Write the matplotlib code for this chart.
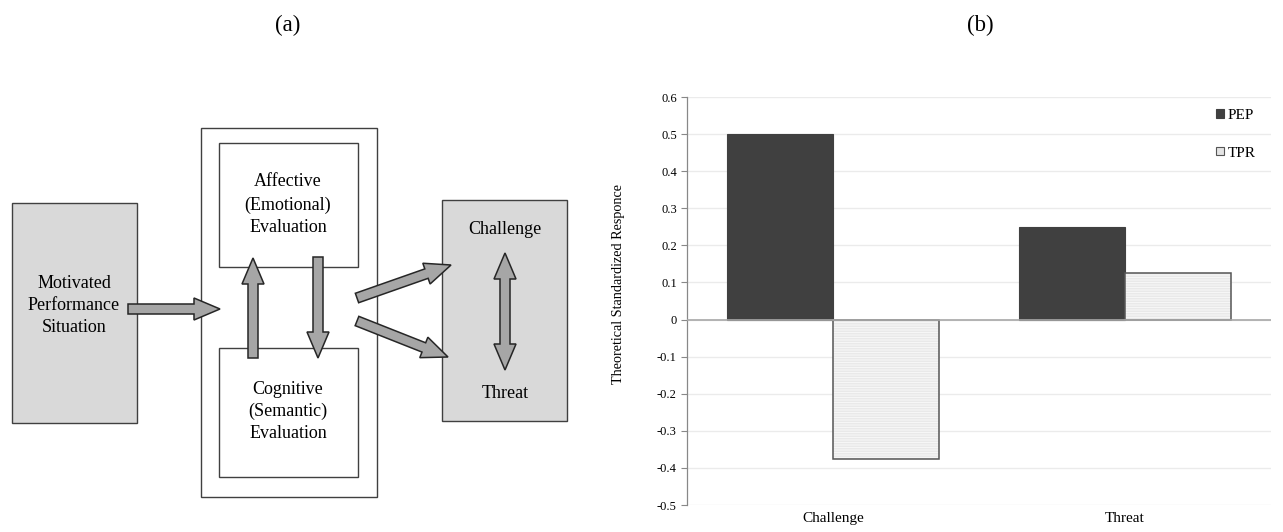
import matplotlib
matplotlib.use("Agg")
import matplotlib.pyplot as plt
from matplotlib.patches import Rectangle, FancyArrow, Polygon
import numpy as np

plt.rcParams['font.family'] = ['Liberation Serif', 'DejaVu Serif']
plt.rcParams['hatch.linewidth'] = 0.6

# ---- data ----
categories = ["Challenge", "Threat"]
series_names = ["PEP", "TPR"]
pep_values = [0.5, 0.25]
tpr_values = [-0.375, 0.125]
y_ticks = [0.6, 0.5, 0.4, 0.3, 0.2, 0.1, 0, -0.1, -0.2, -0.3, -0.4, -0.5]
y_tick_labels = ["0.6", "0.5", "0.4", "0.3", "0.2", "0.1", "0", "-0.1", "-0.2", "-0.3", "-0.4", "-0.5"]

W, H = 1283, 532
fig = plt.figure(figsize=(W / 100, H / 100), dpi=100)

# ---- panel (a): diagram in pixel coordinates ----
axd = fig.add_axes([0, 0, 0.5, 1])
axd.set_xlim(0, W * 0.5)
axd.set_ylim(H, 0)
axd.axis('off')

def box(x0, y0, x1, y1, fc):
    axd.add_patch(Rectangle((x0, y0), x1 - x0, y1 - y0, fc=fc, ec='#404040', lw=1.0))

box(12, 203, 137, 423, '#d9d9d9')
box(201, 128, 377, 497, 'white')
box(219, 143, 358, 267, 'white')
box(219, 348, 358, 477, 'white')
box(442, 200, 567, 421, '#d9d9d9')

fs = 13
for y, t in zip([284, 306, 328], ["Motivated", "Performance", "Situation"]):
    axd.text(74, y, t, ha='center', va='center', fontsize=fs)
for y, t in zip([182, 205, 227], ["Affective", "(Emotional)", "Evaluation"]):
    axd.text(288, y, t, ha='center', va='center', fontsize=fs)
for y, t in zip([389, 411, 434], ["Cognitive", "(Semantic)", "Evaluation"]):
    axd.text(288, y, t, ha='center', va='center', fontsize=fs)
axd.text(505, 229, "Challenge", ha='center', va='center', fontsize=fs)
axd.text(505, 393, "Threat", ha='center', va='center', fontsize=fs)

AFC, AEC = '#a6a6a6', '#262626'
SW, HW, HL = 10, 22, 26

def arrow(x0, y0, x1, y1):
    axd.add_patch(FancyArrow(x0, y0, x1 - x0, y1 - y0, width=SW, head_width=HW,
                             head_length=HL, length_includes_head=True,
                             fc=AFC, ec=AEC, lw=1.1))

def double_arrow_v(xc, ytop, ybot):
    s, h = SW / 2, HW / 2
    pts = [(xc, ytop), (xc + h, ytop + HL), (xc + s, ytop + HL), (xc + s, ybot - HL),
           (xc + h, ybot - HL), (xc, ybot), (xc - h, ybot - HL), (xc - s, ybot - HL),
           (xc - s, ytop + HL), (xc - h, ytop + HL)]
    axd.add_patch(Polygon(pts, closed=True, fc=AFC, ec=AEC, lw=1.1))

arrow(128, 309, 220, 309)
arrow(253, 358, 253, 258)
arrow(318, 257, 318, 358)
arrow(357, 298, 451, 265)
arrow(357, 321, 448, 357)
double_arrow_v(505, 253, 370)

fig.text(288 / W, 1 - 25 / H, "(a)", ha='center', va='center', fontsize=16.5)
fig.text(980 / W, 1 - 25 / H, "(b)", ha='center', va='center', fontsize=16.5)

# ---- panel (b): bar chart ----
left, right = 687 / W, 1271 / W
bottom, top = 1 - 505 / H, 1 - 97 / H
ax = fig.add_axes([left, bottom, right - left, top - bottom])
x = np.arange(len(categories))
bw = 0.363
ax.bar(x - bw / 2, pep_values, bw, color='#404040', edgecolor='#404040', lw=0.8,
       label=series_names[0], zorder=3)
# hatched fill (hatch colour follows edgecolor), then a dark outline on top
ax.bar(x + bw / 2, tpr_values, bw, color='#e4e4e4', edgecolor='#fafafa', lw=0,
       hatch='-' * 10, zorder=3)
ax.bar(x + bw / 2, tpr_values, bw, fill=False, edgecolor='#555555', lw=1.1, zorder=3.5)
ax.bar([0], [0], 0, color='#e4e4e4', edgecolor='#555555', lw=0.8, label=series_names[1])
ax.set_xlim(-0.5, 1.5)
ax.set_ylim(-0.5, 0.6)
ax.set_yticks(y_ticks)
ax.set_yticklabels(y_tick_labels, fontsize=9)
ax.set_xticks(x)
ax.set_xticklabels(categories, fontsize=11)
ax.tick_params(axis='x', length=0, pad=5)
ax.tick_params(axis='y', length=4.3, width=0.8, color='#888888', pad=3)
ax.grid(axis='y', color='#ebebeb', lw=1.0, zorder=0)
ax.axhline(0, color='#a8a8a8', lw=1.2, zorder=4)
for s in ['top', 'right', 'bottom']:
    ax.spines[s].set_visible(False)
ax.spines['left'].set_color('#888888')
ax.spines['left'].set_linewidth(0.9)
ax.set_ylabel("Theoretical Standardized Responce", fontsize=10.2)
ax.yaxis.set_label_coords((625 - 687) / 584, (505 - 284) / 408)
leg = ax.legend(loc='upper right', bbox_to_anchor=(0.997, 1.004), frameon=False, fontsize=11,
                handlelength=0.5, handleheight=0.5, handletextpad=0.25, labelspacing=1.6)

fig.savefig("out.png", dpi=100)
